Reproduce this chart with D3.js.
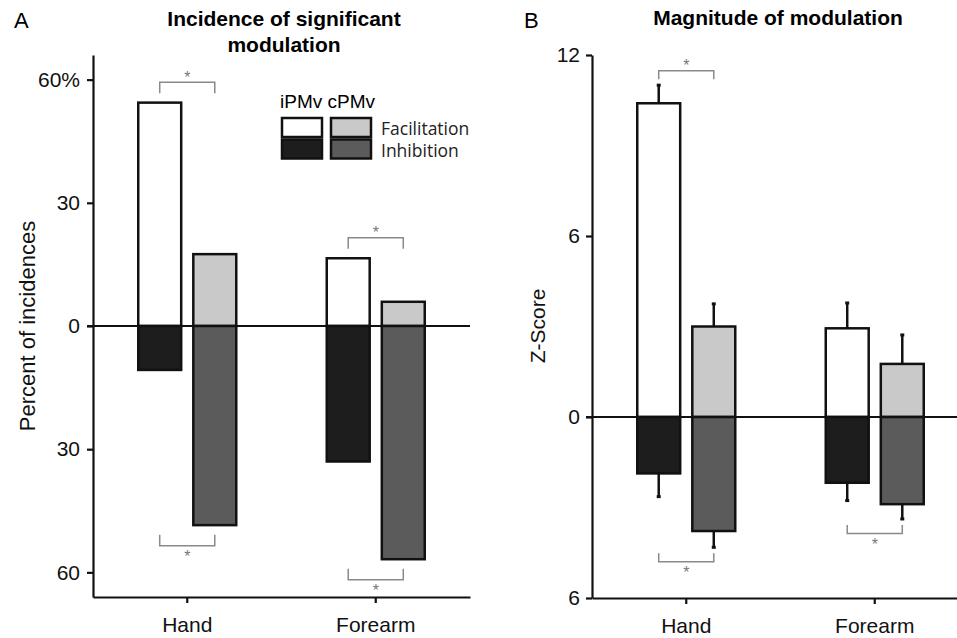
<!DOCTYPE html>
<html>
<head>
<meta charset="utf-8">
<script src="https://cdn.jsdelivr.net/npm/d3@7"></script>
<style>
  body { margin: 0; background: #fff; }
  svg { display: block; font-family: "Liberation Sans", Arial, sans-serif; }
</style>
</head>
<body>
<svg id="chart"></svg>
<script>
const categories = ["Hand", "Forearm"];
const groups = ["iPMv", "cPMv"];

// A: percent of incidences (Hand, Forearm)
const incFacIPMv = [54.4, 16.5];
const incFacCPMv = [17.5, 5.9];
const incInhIPMv = [10.7, 33.0];
const incInhCPMv = [48.5, 56.8];
const incTicks = [60, 30, 0, -30, -60];

// B: z-score magnitude and error (Hand, Forearm)
const zFacIPMv = [10.4, 2.94];
const zFacCPMv = [3.0, 1.76];
const zInhIPMv = [1.87, 2.18];
const zInhCPMv = [3.78, 2.89];
const zFacErrIPMv = [0.6, 0.84];
const zFacErrCPMv = [0.75, 0.96];
const zInhErrIPMv = [0.77, 0.59];
const zInhErrCPMv = [0.54, 0.49];
const zTicks = [12, 6, 0, -6];

// significance brackets: [category, kind]
const sigA = [["Hand", "fac"], ["Forearm", "fac"], ["Hand", "inh"], ["Forearm", "inh"]];
const sigB = [["Hand", "fac"], ["Hand", "inh"], ["Forearm", "inh"]];

const fills = {
  fac: { iPMv: "#ffffff", cPMv: "#c9c9c9" },
  inh: { iPMv: "#1d1d1d", cPMv: "#5b5b5b" }
};

const svg = d3.select("#chart").attr("width", 957).attr("height", 638);

const buildRows = (fac, inh, facErr, inhErr) =>
  categories.flatMap((c, i) =>
    groups.flatMap(g => [
      { cat: c, group: g, kind: "fac", value: fac[g][i], err: facErr ? facErr[g][i] : 0 },
      { cat: c, group: g, kind: "inh", value: inh[g][i], err: inhErr ? inhErr[g][i] : 0 }
    ])
  );

const drawPanel = cfg => {
  const g = svg.append("g");
  const x = d3.scaleBand().domain(categories).range([cfg.x0, cfg.x0 + 377]).padding(0);
  const sub = d3.scaleBand().domain(groups).range([-49, 49]).paddingInner(0.22);
  const y = d3.scaleLinear().domain(cfg.yDomain).range([cfg.yBottom, 55]);
  const cx = d => x(d.cat) + x.bandwidth() / 2 + sub(d.group) + sub.bandwidth() / 2;

  // bars
  g.selectAll("rect.bar")
    .data(cfg.rows)
    .enter()
    .append("rect")
    .attr("class", "bar")
    .attr("x", d => x(d.cat) + x.bandwidth() / 2 + sub(d.group))
    .attr("width", sub.bandwidth())
    .attr("y", d => (d.kind === "fac" ? y(d.value) : y(0)))
    .attr("height", d => Math.abs(y(d.value) - y(0)))
    .attr("fill", d => fills[d.kind][d.group])
    .attr("stroke", "#111")
    .attr("stroke-width", 2.5);

  // error bars
  const errRows = cfg.rows.filter(d => d.err > 0);
  const sgn = d => (d.kind === "fac" ? 1 : -1);
  g.selectAll("line.err")
    .data(errRows)
    .enter()
    .append("line")
    .attr("x1", cx).attr("x2", cx)
    .attr("y1", d => y(sgn(d) * d.value))
    .attr("y2", d => y(sgn(d) * (d.value + d.err)))
    .attr("stroke", "#111")
    .attr("stroke-width", 2.5);
  g.selectAll("line.cap")
    .data(errRows)
    .enter()
    .append("line")
    .attr("x1", d => cx(d) - 2).attr("x2", d => cx(d) + 2)
    .attr("y1", d => y(sgn(d) * (d.value + d.err)))
    .attr("y2", d => y(sgn(d) * (d.value + d.err)))
    .attr("stroke", "#111")
    .attr("stroke-width", 3);

  // zero line
  g.append("line")
    .attr("x1", cfg.x0 - 6).attr("x2", cfg.x0 + 377)
    .attr("y1", y(0)).attr("y2", y(0))
    .attr("stroke", "#111").attr("stroke-width", 2.2);

  // y axis
  const yAxis = d3.axisLeft(y)
    .tickValues(cfg.ticks)
    .tickFormat(cfg.tickFormat)
    .tickSize(6)
    .tickSizeOuter(0)
    .tickPadding(cfg.tickPad);
  const ya = g.append("g").attr("transform", `translate(${cfg.x0},0)`).call(yAxis);
  ya.selectAll("path, line").attr("stroke", "#111").attr("stroke-width", 2.2);
  ya.selectAll("text").attr("font-size", 21).attr("fill", "#111")
    .attr("font-family", "'Liberation Sans', Arial, sans-serif");

  // x axis
  const xAxis = d3.axisBottom(x).tickSize(6).tickSizeOuter(0).tickPadding(14);
  const xa = g.append("g").attr("transform", `translate(0,${cfg.yBottom})`).call(xAxis);
  xa.selectAll("path, line").attr("stroke", "#111").attr("stroke-width", 2.2);
  xa.selectAll("text").attr("font-size", 21).attr("fill", "#111")
    .attr("font-family", "'Liberation Sans', Arial, sans-serif");

  // significance brackets
  cfg.sig.forEach(([cat, kind]) => {
    const pair = cfg.rows.filter(d => d.cat === cat && d.kind === kind);
    const end = d3.max(pair, d => d.value + d.err);
    const dir = kind === "fac" ? 1 : -1;
    const level = y(dir * end) - dir * cfg.gap;
    const xs = pair.map(cx);
    g.append("path")
      .attr("d", `M${xs[0]},${level + dir * cfg.leg}V${level}H${xs[1]}V${level + dir * cfg.leg}`)
      .attr("fill", "none").attr("stroke", "#8a8a8a").attr("stroke-width", 1.5);
    g.append("text")
      .attr("x", (xs[0] + xs[1]) / 2)
      .attr("y", level - dir * 8 + 8.5)
      .attr("text-anchor", "middle")
      .attr("font-size", 16)
      .attr("fill", "#777")
      .text("*");
  });

  // y label
  g.append("text")
    .attr("transform", `translate(${cfg.labelX},326) rotate(-90)`)
    .attr("text-anchor", "middle")
    .attr("font-size", cfg.labelSize)
    .attr("fill", "#111")
    .text(cfg.yLabel);
};

drawPanel({
  x0: 93,
  yBottom: 597,
  yDomain: [-66, 66],
  ticks: incTicks,
  tickFormat: d => (d === 60 ? "60%" : Math.abs(d)),
  tickPad: 7,
  rows: buildRows({ iPMv: incFacIPMv, cPMv: incFacCPMv }, { iPMv: incInhIPMv, cPMv: incInhCPMv }),
  sig: sigA,
  gap: 20.5,
  leg: 11,
  yLabel: "Percent of incidences",
  labelX: 35,
  labelSize: 22
});

drawPanel({
  x0: 592,
  yBottom: 598,
  yDomain: [-6, 12],
  ticks: zTicks,
  tickFormat: d => Math.abs(d),
  tickPad: 6,
  rows: buildRows(
    { iPMv: zFacIPMv, cPMv: zFacCPMv },
    { iPMv: zInhIPMv, cPMv: zInhCPMv },
    { iPMv: zFacErrIPMv, cPMv: zFacErrCPMv },
    { iPMv: zInhErrIPMv, cPMv: zInhErrCPMv }
  ),
  sig: sigB,
  gap: 14.5,
  leg: 8.5,
  yLabel: "Z-Score",
  labelX: 545,
  labelSize: 21
});

// panel letters and titles
svg.append("text").attr("x", 14).attr("y", 28).attr("font-size", 22).text("A");
svg.append("text").attr("x", 524).attr("y", 28).attr("font-size", 22).text("B");

const titleA = svg.append("text")
  .attr("text-anchor", "middle").attr("font-size", 21).attr("font-weight", "bold");
titleA.append("tspan").attr("x", 284).attr("y", 26).text("Incidence of significant");
titleA.append("tspan").attr("x", 284).attr("y", 52).text("modulation");

svg.append("text")
  .attr("x", 778).attr("y", 25)
  .attr("text-anchor", "middle").attr("font-size", 21).attr("font-weight", "bold")
  .text("Magnitude of modulation");

// legend
const legend = svg.append("g").attr("transform", "translate(282,108)");
legend.append("text").attr("x", -2).attr("y", 0).attr("font-size", 19).text("iPMv cPMv");
const kinds = ["fac", "inh"];
const kindNames = ["Facilitation", "Inhibition"];
kinds.forEach((k, r) => {
  groups.forEach((gname, c) => {
    legend.append("rect")
      .attr("x", c * 49).attr("y", 10 + r * 21.5)
      .attr("width", 40).attr("height", 19)
      .attr("fill", fills[k][gname])
      .attr("stroke", "#111").attr("stroke-width", 2.5);
  });
  legend.append("text")
    .attr("x", 99).attr("y", 27 + r * 22)
    .attr("font-family", "'Open Sans', sans-serif")
    .attr("font-size", 17.5)
    .attr("fill", "#222")
    .text(kindNames[r]);
});
</script>
</body>
</html>
